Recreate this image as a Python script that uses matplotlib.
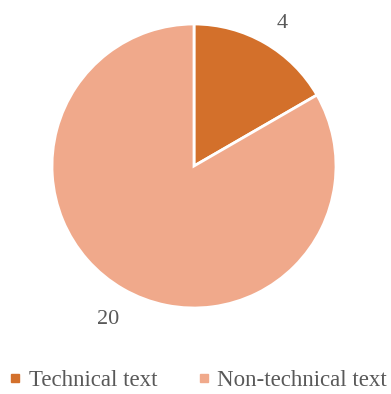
import numpy as np
import matplotlib.pyplot as plt
from matplotlib.lines import Line2D

# counts of texts by category
categories = ["Technical text", "Non-technical text"]
counts = [4, 20]
colors = ["#D3702B", "#F0A98B"]
text_color = "#595959"

plt.rcParams["font.family"] = ["Liberation Serif", "DejaVu Serif"]

fig = plt.figure(figsize=(3.91, 3.94), dpi=100)
ax = fig.add_axes([0, 0, 1, 1])

cx, cy, r = 194, 228, 142
wedges, texts = ax.pie(counts, colors=colors, labels=[str(c) for c in counts],
                       startangle=90, counterclock=False,
                       center=(cx, cy), radius=r, labeldistance=1.2,
                       wedgeprops=dict(edgecolor="white", linewidth=2),
                       textprops=dict(color=text_color, fontsize=16),
                       frame=True)

# place value labels outside each wedge, a bit further for the big one
for w, t, d in zip(wedges, texts, [1.16, 1.25]):
    ang = np.deg2rad((w.theta1 + w.theta2) / 2)
    t.set_position((cx + d * r * np.cos(ang) - (8 if d > 1.2 else 0),
                    cy + d * r * np.sin(ang)))

ax.set_xlim(0, 391)
ax.set_ylim(0, 394)
ax.set_aspect("equal")
ax.axis("off")

handles = [Line2D([0], [0], marker="s", linestyle="none", markersize=6,
                  markerfacecolor=c, markeredgecolor=c) for c in colors]
fig.legend(handles, categories, loc="lower center", bbox_to_anchor=(0.5, -0.045),
           ncol=2, frameon=False, fontsize=16.5, labelcolor=text_color,
           handletextpad=0.1, columnspacing=1.5, handlelength=1.0)

fig.savefig("out.png", dpi=100)
